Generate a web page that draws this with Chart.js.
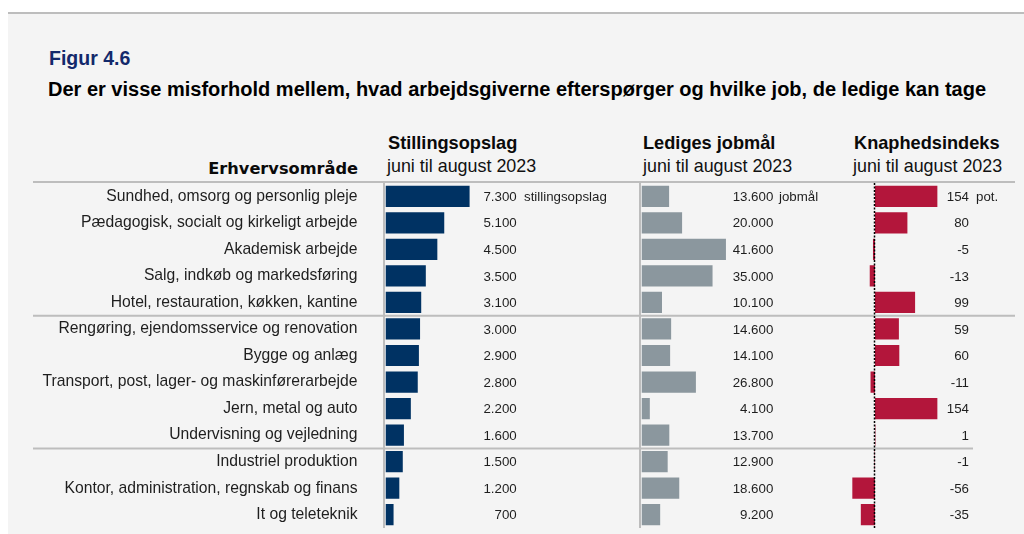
<!DOCTYPE html>
<html lang="da">
<head>
<meta charset="utf-8">
<script src="https://cdn.jsdelivr.net/npm/chart.js@4.4.1/dist/chart.umd.min.js"></script>
<style>
  html, body { margin: 0; padding: 0; background: #ffffff; }
  body { width: 1024px; height: 534px; position: relative; overflow: hidden; font-family: "Liberation Sans", Arial, sans-serif; }
  #panel { position: absolute; left: 8px; top: 14px; width: 1016px; height: 520px; background: #f4f4f4; }
  #topline { position: absolute; left: 8px; top: 12px; width: 1016px; height: 2px; background: #bdbdbd; }
  .t { position: absolute; white-space: nowrap; line-height: 1; }
  canvas { position: absolute; left: 0; top: 175px; }
</style>
</head>
<body>
<div id="panel"></div>
<div id="topline"></div>
<div class="t" style="left:49px; top:48.5px; font-size:19.5px; font-weight:bold; color:#13296b;">Figur 4.6</div>
<div class="t" style="left:48px; top:79.3px; font-size:20px; font-weight:bold; color:#000;">Der er visse misforhold mellem, hvad arbejdsgiverne efterspørger og hvilke job, de ledige kan tage</div>
<div class="t" style="right:666px; top:160.6px; font-family:'DejaVu Sans', sans-serif; font-size:16.2px; font-weight:bold; color:#0a0a0a;">Erhvervsområde</div>
<div class="t" style="left:388px; top:133.8px; font-size:18.2px; font-weight:bold; color:#0a0a0a;">Stillingsopslag</div>
<div class="t" style="left:387px; top:158.1px; font-size:17.9px; color:#111;">juni til august 2023</div>
<div class="t" style="left:643px; top:133.8px; font-size:18.2px; font-weight:bold; color:#0a0a0a;">Lediges jobmål</div>
<div class="t" style="left:643px; top:158.1px; font-size:17.9px; color:#111;">juni til august 2023</div>
<div class="t" style="left:854px; top:133.8px; font-size:18.2px; font-weight:bold; color:#0a0a0a;">Knaphedsindeks</div>
<div class="t" style="left:853px; top:158.1px; font-size:17.9px; color:#111;">juni til august 2023</div>

<canvas id="cA" width="1024" height="359"></canvas>
<canvas id="cB" width="1024" height="359"></canvas>
<canvas id="cC" width="1024" height="359"></canvas>

<script>
// ---------- DATA ----------
const categories = [
  "Sundhed, omsorg og personlig pleje",
  "Pædagogisk, socialt og kirkeligt arbejde",
  "Akademisk arbejde",
  "Salg, indkøb og markedsføring",
  "Hotel, restauration, køkken, kantine",
  "Rengøring, ejendomsservice og renovation",
  "Bygge og anlæg",
  "Transport, post, lager- og maskinførerarbejde",
  "Jern, metal og auto",
  "Undervisning og vejledning",
  "Industriel produktion",
  "Kontor, administration, regnskab og finans",
  "It og teleteknik"
];
const stillingsopslag = [7300, 5100, 4500, 3500, 3100, 3000, 2900, 2800, 2200, 1600, 1500, 1200, 700];
const jobmaal = [13600, 20000, 41600, 35000, 10100, 14600, 14100, 26800, 4100, 13700, 12900, 18600, 9200];
const knaphedsindeks = [154, 80, -5, -13, 99, 59, 60, -11, 154, 1, -1, -56, -35];
const groupStarts = [5, 10];
const unitLabels = ["stillingsopslag", "jobmål", "pot."];

// ---------- LAYOUT / STYLE ----------
const W = 1024;
const PAD_TOP = 8, PAD_BOTTOM = 6;
const valueFont = '13.3px "Liberation Sans", Arial, sans-serif';
const textColor = '#1e1e1e';
const lineColor = '#bdbdbd';

function fmt(v) {
  const neg = v < 0;
  let s = String(Math.abs(Math.round(v)));
  s = s.replace(/\B(?=(\d{3})+(?!\d))/g, '.');
  return (neg ? '-' : '') + s;
}

function labelPlugin(id, data, valueRight, unitLeft, unit, extra) {
  return {
    id: id,
    afterDatasetsDraw(chart) {
      const ctx = chart.ctx;
      const meta = chart.getDatasetMeta(0);
      const area = chart.chartArea;
      if (extra) extra(chart, ctx, area);
      ctx.save();
      ctx.font = valueFont;
      ctx.fillStyle = textColor;
      ctx.textBaseline = 'middle';
      data.forEach((v, i) => {
        const y = meta.data[i].y + 1;
        ctx.textAlign = 'right';
        ctx.fillText(fmt(v), valueRight, y);
        if (i === 0) {
          ctx.textAlign = 'left';
          ctx.fillText(unit, unitLeft, y);
        }
      });
      ctx.restore();
    }
  };
}

function baseOptions(padLeft, padRight, xmin, xmax, showY) {
  return {
    indexAxis: 'y',
    responsive: false,
    animation: false,
    devicePixelRatio: 1,
    layout: { padding: { left: padLeft, right: padRight, top: PAD_TOP, bottom: PAD_BOTTOM } },
    plugins: { legend: { display: false }, tooltip: { enabled: false } },
    scales: {
      x: { display: false, min: xmin, max: xmax },
      y: {
        display: showY,
        grid: { display: false, drawTicks: false },
        border: { display: false },
        ticks: {
          padding: 28,
          color: textColor,
          font: { family: '"Liberation Sans", Arial, sans-serif', size: 15.7 },
          crossAlign: 'near'
        },
        afterFit: showY ? (s) => { s.width = 385.5; s.paddingTop = 0; s.paddingBottom = 0; } : undefined
      }
    }
  };
}

function vline(ctx, x, area, color, width, dash) {
  ctx.save();
  ctx.strokeStyle = color;
  ctx.lineWidth = width;
  if (dash) ctx.setLineDash(dash);
  ctx.beginPath();
  ctx.moveTo(x, area.top);
  ctx.lineTo(x, area.bottom);
  ctx.stroke();
  ctx.restore();
}

function hline(ctx, y, x0, x1) {
  ctx.save();
  ctx.strokeStyle = lineColor;
  ctx.lineWidth = 2;
  ctx.beginPath();
  ctx.moveTo(x0, y);
  ctx.lineTo(x1, y);
  ctx.stroke();
  ctx.restore();
}

// ---------- CHART A: Stillingsopslag ----------
const A_MAX = 22000, A_PX = 0.01152, A_LEFT = 385.5;
new Chart(document.getElementById('cA'), {
  type: 'bar',
  data: {
    labels: categories,
    datasets: [{ data: stillingsopslag, backgroundColor: '#003263', barPercentage: 0.8, categoryPercentage: 1.0 }]
  },
  options: baseOptions(0, W - A_LEFT - A_MAX * A_PX, 0, A_MAX, true),
  plugins: [labelPlugin('lblA', stillingsopslag, 516.7, 524, unitLabels[0], (chart, ctx, area) => {
    const ys = chart.scales.y;
    hline(ctx, area.top - 1, 33, 1015);
    groupStarts.forEach((g, k) => {
      const y = (ys.getPixelForValue(g - 1) + ys.getPixelForValue(g)) / 2;
      hline(ctx, y, 33, k === 0 ? 1015 : 973);
    });
    vline(ctx, area.left - 1.5, area, lineColor, 2);
  })]
});

// ---------- CHART B: Lediges jobmål ----------
const B_MAX = 45000, B_PX = 0.00203, B_LEFT = 641.5;
new Chart(document.getElementById('cB'), {
  type: 'bar',
  data: {
    labels: categories,
    datasets: [{ data: jobmaal, backgroundColor: '#8b979e', barPercentage: 0.8, categoryPercentage: 1.0 }]
  },
  options: baseOptions(B_LEFT, W - B_LEFT - B_MAX * B_PX, 0, B_MAX, false),
  plugins: [labelPlugin('lblB', jobmaal, 773.3, 779, unitLabels[1], (chart, ctx, area) => {
    vline(ctx, area.left - 1.5, area, lineColor, 2);
  })]
});

// ---------- CHART C: Knaphedsindeks ----------
const C_MIN = -80, C_MAX = 200, C_PX = 0.405, C_ZERO = 875;
const C_LEFT = C_ZERO + C_MIN * C_PX;
new Chart(document.getElementById('cC'), {
  type: 'bar',
  data: {
    labels: categories,
    datasets: [{ data: knaphedsindeks, backgroundColor: '#b3163b', barPercentage: 0.8, categoryPercentage: 1.0 }]
  },
  options: baseOptions(C_LEFT, W - C_LEFT - (C_MAX - C_MIN) * C_PX, C_MIN, C_MAX, false),
  plugins: [labelPlugin('lblC', knaphedsindeks, 969, 976, unitLabels[2], (chart, ctx, area) => {
    const x = Math.round(chart.scales.x.getPixelForValue(0)) - 0.5;
    vline(ctx, x, area, '#000', 1.5, [2, 1.5]);
  })]
});
</script>
</body>
</html>
